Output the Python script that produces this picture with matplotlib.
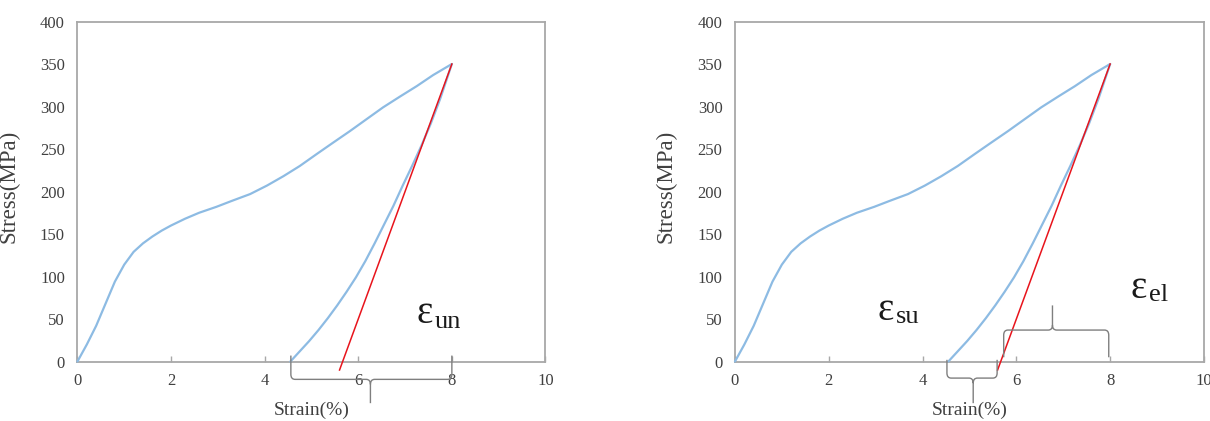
import matplotlib
matplotlib.use("Agg")
import matplotlib.pyplot as plt
from matplotlib.path import Path
from matplotlib.patches import PathPatch

# ---------------- data ----------------
load_strain = [0, 0.2, 0.4, 0.6, 0.8, 1.0, 1.2, 1.4, 1.6, 1.8, 2.0, 2.3, 2.6, 2.97,
               3.3, 3.69, 4.05, 4.4, 4.75, 5.11, 5.45, 5.82, 6.2, 6.53, 6.9,
               7.25, 7.6, 8.0]
load_stress = [0, 20, 42, 68, 94, 114, 129, 139, 147, 154, 160, 168, 175, 182,
               189, 197, 207, 218, 230, 244, 257, 271, 286, 299, 312,
               324, 337, 350]
unload_strain = [4.55, 4.75, 4.95, 5.15, 5.35, 5.55, 5.75, 5.95, 6.15, 6.35,
                 6.55, 6.75, 6.95, 7.15, 7.35, 7.55, 7.75, 8.0]
unload_stress = [0, 12, 24, 37, 51, 66, 82, 99, 118, 139,
                 161, 183, 207, 230, 254, 280, 309, 350]
red_strain = [8.0, 5.6]
red_stress = [350, -10]

x_ticks = [0, 2, 4, 6, 8, 10]
y_ticks = [0, 50, 100, 150, 200, 250, 300, 350, 400]

# braces: (x_start, x_end, level, arm_end, tip_x, tip_end)
left_braces = [(4.56, 8.0, -21, 7, 6.26, -49)]
right_braces = [(4.52, 5.59, -19.5, 2, 5.08, -49),
                (5.73, 7.97, 37, 5, 6.77, 66)]

# labels: (symbol x, symbol y, subscript x, subscript y, subscript)
left_labels = [(7.25, 45, 7.64, 40, "un")]
right_labels = [(3.05, 49, 3.44, 45, "su"), (8.44, 75, 8.83, 71, "el")]

BLUE = "#8dbbe3"
RED = "#e8141c"
SPINE = "#a8a8a8"
TXT = "#404040"
SERIF = ["Liberation Serif", "DejaVu Serif"]

plt.rcParams["font.family"] = SERIF

fig = plt.figure(figsize=(12.10, 4.21), dpi=100)
ax1 = fig.add_axes([0.0640, 0.1413, 0.3868, 0.8076])
ax2 = fig.add_axes([0.6074, 0.1413, 0.3876, 0.8076])


def draw_brace(ax, x0, x1, yl, ya, xt, yt):
    d = 1 if yt > yl else -1
    rx, ry = 0.09, 6.0
    verts = [(x0, ya), (x0, yl - d * ry), (x0, yl), (x0 + rx, yl),
             (xt - rx, yl), (xt, yl), (xt, yl + d * ry), (xt, yt),
             (xt, yl + d * ry), (xt, yl), (xt + rx, yl),
             (x1 - rx, yl), (x1, yl), (x1, yl - d * ry), (x1, ya)]
    codes = [Path.MOVETO, Path.LINETO, Path.CURVE3, Path.CURVE3,
             Path.LINETO, Path.CURVE3, Path.CURVE3, Path.LINETO,
             Path.MOVETO, Path.CURVE3, Path.CURVE3,
             Path.LINETO, Path.CURVE3, Path.CURVE3, Path.LINETO]
    p = PathPatch(Path(verts, codes), fill=False, edgecolor="#7f7f7f",
                  lw=1.0, clip_on=False, zorder=5)
    ax.add_patch(p)


for ax, braces, labels in [(ax1, left_braces, left_labels),
                           (ax2, right_braces, right_labels)]:
    ax.plot(load_strain, load_stress, color=BLUE, lw=1.6, zorder=3,
            solid_capstyle="round", solid_joinstyle="round", clip_on=False)
    ax.plot(unload_strain, unload_stress, color=BLUE, lw=1.6, zorder=3,
            solid_capstyle="round", solid_joinstyle="round", clip_on=False)
    ax.plot(red_strain, red_stress, color=RED, lw=1.1, zorder=4, clip_on=False)
    ax.set_xlim(0, 10)
    ax.set_ylim(0, 400)
    ax.set_xticks(x_ticks)
    ax.set_yticks(y_ticks)
    ax.tick_params(axis="x", direction="in", length=4, width=1, color=SPINE,
                   pad=8, labelsize=12, labelcolor=TXT)
    ax.tick_params(axis="y", length=0, pad=9, labelsize=12, labelcolor=TXT)
    for s in ax.spines.values():
        s.set_color(SPINE)
        s.set_linewidth(1.3)
    ax.set_ylabel("Stress(MPa)", fontsize=16.5, color=TXT)
    ax.yaxis.set_label_coords(-0.124, 0.515)
    ax.set_xlabel("Strain(%)", fontsize=14, color=TXT)
    ax.xaxis.set_label_coords(0.5, -0.118)
    for b in braces:
        draw_brace(ax, *b)
    for sx, sy, bx, by, sub in labels:
        ax.text(sx, sy, "\u03b5", fontsize=28, color="#1a1a1a",
                ha="left", va="baseline", zorder=6)
        ax.text(bx, by, sub, fontsize=19, color="#1a1a1a",
                ha="left", va="baseline", zorder=6)

fig.savefig("out.png", dpi=100)
